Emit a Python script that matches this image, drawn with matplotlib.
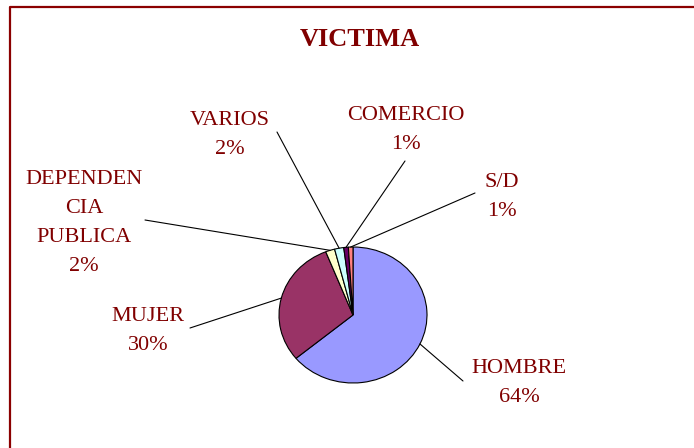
import numpy as np
import matplotlib
matplotlib.use("Agg")
import matplotlib.pyplot as plt
from matplotlib.lines import Line2D

# data
categories = ["HOMBRE", "MUJER", "DEPENDEN\nCIA\nPUBLICA", "VARIOS", "COMERCIO", "S/D"]
percentages = [64, 30, 2, 2, 1, 1]
colors = ["#9999FF", "#993366", "#FFFFCC", "#CCFFFF", "#660066", "#FF8080"]
title = "VICTIMA"

# layout (pixels from top-left)
W, H = 694, 448
center_px = (353, 315)
radius_px = (74, 68)
label_pos = [(519, 366), (148, 314), (84, 177), (230, 118), (406, 113), (502, 180)]
line_start = [(463, 381), (190, 328), (145, 220), (277, 132), (405, 161), (475, 193)]
line_gap = 29
text_color = "#800000"
font = "Liberation Serif"

fig = plt.figure(figsize=(W / 100, H / 100), dpi=100)
fig.patch.set_facecolor("white")

# frame lines (left and top only, the rest is cut off)
fig.add_artist(Line2D([10 / W, 10 / W, 1.0], [0.0, 1 - 7 / H, 1 - 7 / H],
                      color="#8B0000", lw=1.6))

fig.text(359.5 / W, 1 - 46 / H, title, ha="center", va="baseline",
         family=font, fontsize=19, fontweight="bold", color=text_color)

cx, cy = center_px
rx, ry = radius_px
ax = fig.add_axes([(cx - rx) / W, (H - cy - ry) / H, 2 * rx / W, 2 * ry / H])
ax.pie(percentages, colors=colors, startangle=90, counterclock=False, radius=1,
       wedgeprops=dict(edgecolor="black", linewidth=0.8))
ax.set_aspect("auto")
ax.set_xlim(-1, 1)
ax.set_ylim(-1, 1)
ax.axis("off")

# leader lines to the middle of each slice
cum = np.cumsum(percentages) - np.array(percentages) / 2
for frac, (sx, sy) in zip(cum / sum(percentages), line_start):
    ang = np.deg2rad(90 - 360 * frac)
    ax.annotate("", xy=(np.cos(ang), np.sin(ang)), xycoords="data",
                xytext=(sx, H - sy), textcoords="figure pixels",
                annotation_clip=False,
                arrowprops=dict(arrowstyle="-", color="black", lw=0.8,
                                shrinkA=0, shrinkB=0))

for name, pct, (lx, ly) in zip(categories, percentages, label_pos):
    lines = name.split("\n") + [f"{pct}%"]
    for i, txt in enumerate(lines):
        fig.text(lx / W, 1 - (ly + 7 + i * line_gap) / H, txt, ha="center", va="baseline",
                 family=font, fontsize=16, color=text_color)

fig.savefig("out.png", dpi=100)
